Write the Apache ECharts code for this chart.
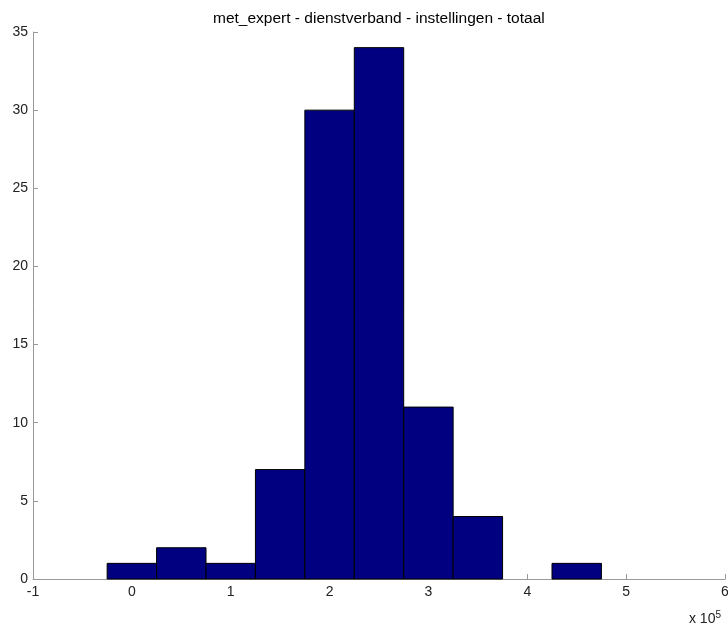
<!DOCTYPE html>
<html>
<head>
<meta charset="utf-8">
<script src="https://cdn.jsdelivr.net/npm/echarts@6/dist/echarts.min.js"></script>
<style>
  html, body { margin: 0; padding: 0; background: #fff; }
  #chart { width: 728px; height: 628px; }
</style>
</head>
<body>
<div id="chart"></div>
<script>
// Histogram bin centres (in units of 10^5) and counts per bin
const binCenters = [0, 0.5, 1, 1.5, 2, 2.5, 3, 3.5, 4, 4.5];
const binCounts = [1, 2, 1, 7, 30, 34, 11, 4, 0, 1];
const binWidth = 0.5;
const chartTitle = 'met_expert - dienstverband - instellingen - totaal';

const chart = echarts.init(document.getElementById('chart'));
const fontFam = '"Liberation Sans", Arial, sans-serif';

chart.setOption({
  animation: false,
  title: {
    text: chartTitle,
    left: 208,
    top: 6,
    textStyle: { fontFamily: fontFam, fontSize: 15.5, fontWeight: 'normal', color: '#000' }
  },
  grid: { left: 33, right: 3, top: 32, bottom: 49, outerBoundsMode: 'none' },
  xAxis: {
    type: 'value',
    min: -1, max: 6, interval: 1,
    splitLine: { show: false },
    axisLine: { onZero: false, lineStyle: { color: '#999', width: 1 } },
    axisTick: { inside: true, length: 5, lineStyle: { color: '#999' } },
    axisLabel: { color: '#222', fontFamily: fontFam, fontSize: 14, margin: 6 }
  },
  yAxis: {
    type: 'value',
    min: 0, max: 35, interval: 5,
    splitLine: { show: false },
    axisLine: { show: true, onZero: false, lineStyle: { color: '#999', width: 1 } },
    axisTick: { show: true, inside: true, length: 5, lineStyle: { color: '#999' } },
    axisLabel: { color: '#222', fontFamily: fontFam, fontSize: 14, margin: 5 }
  },
  series: [{
    type: 'custom',
    data: binCenters.map((c, i) => [c, binCounts[i]]),
    renderItem: function (params, api) {
      const c = api.value(0), n = api.value(1);
      if (!n) return null;
      const p0 = api.coord([c - binWidth / 2, n]);
      const p1 = api.coord([c + binWidth / 2, 0]);
      return {
        type: 'rect',
        shape: { x: p0[0], y: p0[1], width: p1[0] - p0[0], height: p1[1] - p0[1] },
        style: { fill: '#000080', stroke: '#000', lineWidth: 1 }
      };
    }
  }],
  graphic: [{
    type: 'text',
    right: 7, top: 610,
    style: {
      text: 'x 10{sup|5}',
      fontFamily: fontFam, fontSize: 14, fill: '#222',
      rich: { sup: { fontSize: 10, verticalAlign: 'top', padding: [0, 0, 9, 0], fill: '#222' } }
    }
  }]
});
</script>
</body>
</html>
